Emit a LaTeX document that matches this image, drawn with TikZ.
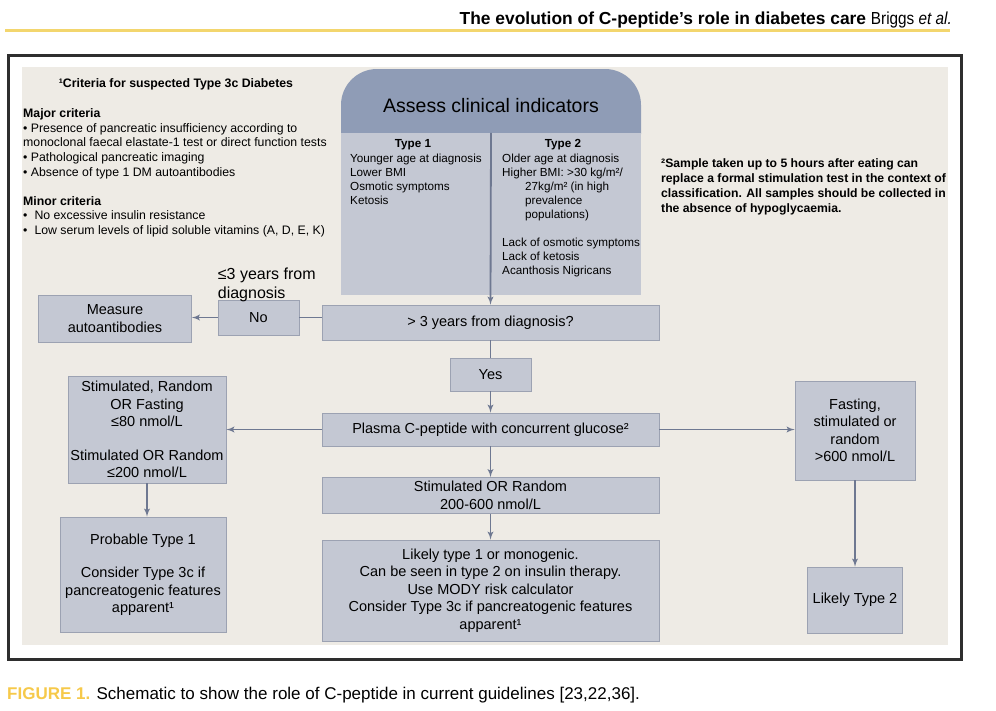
\documentclass[tikz,border=0pt]{standalone}
\usepackage{fontspec}
\setmainfont{Liberation Sans}
\usepackage{graphicx}
\usetikzlibrary{arrows,positioning}
\definecolor{paper}{HTML}{EEEBE5}
\definecolor{boxfill}{HTML}{C4C8D3}
\definecolor{boxline}{HTML}{9CA2B2}
\definecolor{headfill}{HTML}{8F9CB6}
\definecolor{linkcol}{HTML}{6E7891}
\definecolor{framecol}{HTML}{2E2E2E}
\definecolor{yellowrule}{HTML}{F3D66E}
\definecolor{figyellow}{HTML}{F6C94A}
\tikzstyle{line} = [draw=linkcol, line width=1.8pt]
\tikzstyle{link} = [line, -latex']
\tikzstyle{box} = [rectangle, draw=boxline, line width=0.6pt, fill=boxfill, align=center, inner sep=0pt, font=\fontsize{14.5}{17.5}\selectfont]
\tikzstyle{small} = [inner sep=0pt, align=left, font=\fontsize{11.7}{14}\selectfont]
\tikzstyle{note} = [inner sep=0pt, align=left, font=\fontsize{12.3}{14.6}\selectfont]

\begin{document}
\begin{tikzpicture}[x=1pt, y=-1pt]
	\useasboundingbox (0,0) rectangle (996,710);
	
	\node [anchor=base east, inner sep=0pt, font=\fontsize{17.4}{17.4}\selectfont] (runhead) at (952,24) {{\bfseries The evolution of C-peptide’s role in diabetes care} \scalebox{0.88}[1]{Briggs \textit{et al.}}};
	\draw [yellowrule, line width=3pt] (5,30) -- (950,30);
	\draw [framecol, line width=3pt, fill=white] (8,55) rectangle (961,659);
	\fill [paper] (22,67) rectangle (948,645);
	
	% clinical indicators
	\node [rectangle, fill=headfill, rounded corners=36pt, minimum width=300pt, minimum height=101pt, inner sep=0pt] (assesshead) at (491,119.5) {};
	\node [inner sep=0pt, font=\fontsize{19.5}{20}\selectfont] (assesstitle) at (491,106) {Assess clinical indicators};
	\node [rectangle, fill=boxfill, minimum width=300pt, minimum height=162pt, inner sep=0pt] (assess) at (491,214) {};
	\node [small, font=\fontsize{11.7}{14}\selectfont\bfseries] (typeonehead) at (413,145) {Type 1};
	\node [small, font=\fontsize{11.7}{14}\selectfont\bfseries] (typetwohead) at (563,145) {Type 2};
	\node [small, anchor=north west] (typeone) at (350,153.5) {Younger age at diagnosis\\Lower BMI\\Osmotic symptoms\\Ketosis};
	\node [small, anchor=north west] (typetwo) at (502,153.5) {Older age at diagnosis\\Higher BMI: >30 kg/m²/\\\hspace*{23pt}27kg/m² (in high\\\hspace*{23pt}prevalence\\\hspace*{23pt}populations)\\[14pt]Lack of osmotic symptoms\\Lack of ketosis\\Acanthosis Nigricans};
	
	% footnotes
	\node [note, font=\fontsize{12.3}{14.6}\selectfont\bfseries] (criteriatitle) at (176,84) {¹Criteria for suspected Type 3c Diabetes};
	\node [note, anchor=north west] (criteria) at (23,108.5) {\textbf{Major criteria}\\• Presence of pancreatic insufficiency according to\\monoclonal faecal elastate-1 test or direct function tests\\• Pathological pancreatic imaging\\• Absence of type 1 DM autoantibodies\\[14.6pt]\textbf{Minor criteria}\\•\hspace{7pt}No excessive insulin resistance\\•\hspace{7pt}Low serum levels of lipid soluble vitamins (A, D, E, K)};
	\node [note, anchor=north west, font=\fontsize{12.2}{15}\selectfont\bfseries] (sampling) at (661,158.5) {²Sample taken up to 5 hours after eating can\\replace a formal stimulation test in the context of\\classification. All samples should be collected in\\the absence of hypoglycaemia.};
	
	% flow
	\node [box, minimum width=337pt, minimum height=35pt] (gt3) at (490.5,322.5) {> 3 years from diagnosis?};
	\node [box, left of=gt3, node distance=232pt, yshift=5pt, minimum width=81pt, minimum height=35pt] (nobox) {No};
	\node [box, left of=nobox, node distance=143.5pt, yshift=-1pt, minimum width=153pt, minimum height=47pt] (measure) {Measure\\autoantibodies};
	\node [anchor=south west, inner sep=0pt, align=left, font=\fontsize{16}{19}\selectfont] (nolabel) at ([yshift=-2pt]nobox.north west) {≤3 years from\\diagnosis};
	\node [box, below of=gt3, node distance=52pt, minimum width=81pt, minimum height=33pt] (yes) {Yes};
	\node [box, below of=yes, node distance=55pt, minimum width=337pt, minimum height=33pt] (plasma) {Plasma C-peptide with concurrent glucose²};
	\node [box, below of=plasma, node distance=66pt, minimum width=337pt, minimum height=36pt] (midrange) {Stimulated OR Random\\200-600 nmol/L};
	\node [box, below of=midrange, node distance=95pt, minimum width=337pt, minimum height=101pt] (likelymono) {Likely type 1 or monogenic.\\Can be seen in type 2 on insulin therapy.\\Use MODY risk calculator\\Consider Type 3c if pancreatogenic features\\apparent¹};
	\node [box, left of=plasma, node distance=343.5pt, minimum width=158pt, minimum height=107pt] (stimlow) {Stimulated, Random\\OR Fasting\\≤80 nmol/L\\[16pt]Stimulated OR Random\\≤200 nmol/L};
	\node [box, below of=stimlow, node distance=145pt, xshift=-4pt, minimum width=166pt, minimum height=115pt] (probable) {Probable Type 1\\[16pt]Consider Type 3c if\\pancreatogenic features\\apparent¹};
	\node [box, right of=plasma, node distance=364.5pt, yshift=-1pt, minimum width=120pt, minimum height=99pt] (fasting) {Fasting,\\stimulated or\\random\\>600 nmol/L};
	\node [box, below of=fasting, node distance=169.5pt, minimum width=95pt, minimum height=66pt] (likelytwo) {Likely Type 2};
	
	\path [link] (assess.north) to (gt3.north);
	\path [line] (gt3.west |- nobox.east) to (nobox.east);
	\path [link] (nobox.west) to (nobox.west -| measure.east);
	\path [line] (gt3.south) to (yes.north);
	\path [link] (yes.south) to (plasma.north);
	\path [link] (plasma.west) to (stimlow.east);
	\path [link] (plasma.east) to (plasma.east -| fasting.west);
	\path [link] (plasma.south) to (midrange.north);
	\path [link] (midrange.south) to (likelymono.north);
	\path [link] (stimlow.south) to (stimlow.south |- probable.north);
	\path [link] (fasting.south) to (likelytwo.north);
	
	\node [anchor=base west, inner sep=0pt, font=\fontsize{17}{17}\selectfont] (caption) at (7,699) {\textcolor{figyellow}{\bfseries FIGURE 1.} Schematic to show the role of C-peptide in current guidelines [23,22,36].};
\end{tikzpicture}
\end{document}
